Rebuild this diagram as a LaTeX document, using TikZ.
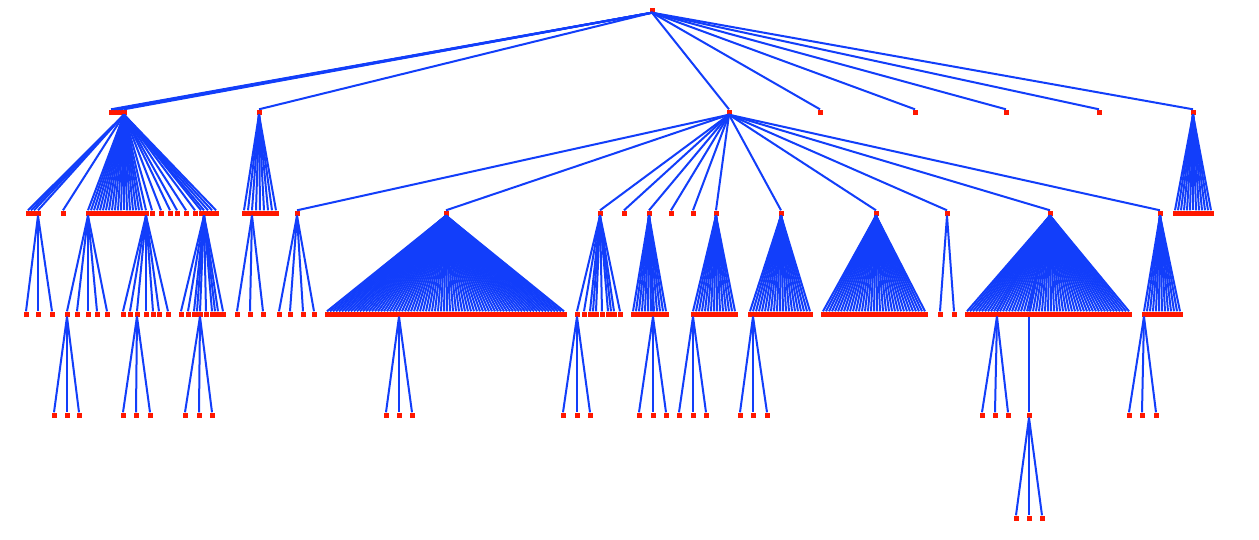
\documentclass[tikz,border=0pt]{standalone}
\definecolor{edgeblue}{RGB}{18,62,250}
\definecolor{dotred}{RGB}{255,24,0}
\tikzset{
  leaf/.style={fill=dotred, draw=none, inner sep=0pt, minimum size=5pt, rectangle},
  edge/.style={draw=edgeblue, line width=2pt}
}
% #1 parent, #2 prefix, #3 y, #4 list of x
\newcommand\kids[4]{\foreach \xx [count=\tkk] in {#4}{%
  \node[leaf] (#2-\tkk) at (\xx,#3) {};
  \draw[edge] (#1.south) -- (#2-\tkk.north);}}
% #1 parent, #2 name, #3 x, #4 y
\newcommand\kid[4]{\node[leaf] (#2) at (#3,#4) {};
  \draw[edge] (#1.south) -- (#2.north);}
\begin{document}
\begin{tikzpicture}[x=1pt,y=-1pt]
\useasboundingbox[fill=white] (0,0) rectangle (1259,539);
\node[leaf] (r) at (652,10) {};
% level 1
\kids{r}{ra}{112}{111,114,117,120}
\kid{r}{A}{124}{112}
\kid{r}{B}{259}{112}
\kid{r}{C}{729}{112}
\kids{r}{rb}{112}{820,915,1006,1099}
\kid{r}{H}{1193}{112}
% children of A
\kids{A}{aa}{213}{28,31,34}
\kid{A}{A1}{38}{213}
\kid{A}{A2}{88}{213}
\kids{A}{ab}{213}{63,91,94,...,142}
\kid{A}{A3}{146}{213}
\kids{A}{ac}{213}{152,161,170,177,186,195,201,208,212,216}
\kid{A}{A4}{204}{213}
\kids{A1}{a1}{314}{26,38,52}
\kids{A2}{a2}{314}{77,88,97,107}
\kid{A2}{A2a}{67}{314}
\kids{A2a}{a2a}{415}{54,67,79}
\kids{A3}{a3}{314}{123,130,146,153,159,168}
\kid{A3}{A3a}{137}{314}
\kids{A3a}{a3a}{415}{123,136,150}
\kids{A4}{a4}{314}{181,188,194,197,206,212,215,218,223}
\kid{A4}{A4a}{200}{314}
\kids{A4a}{a4a}{415}{185,199,212}
% children of B
\kids{B}{bb}{213}{244,248,256,260,264,268,272,276}
\kid{B}{B1}{252}{213}
\kids{B1}{b1}{314}{237,250,263}
% children of H
\kids{H}{hh}{213}{1175,1178,...,1213}
% children of C
\kid{C}{C1}{297}{213}
\kid{C}{C2}{446}{213}
\kid{C}{C3}{600}{213}
\kid{C}{C4}{649}{213}
\kid{C}{C5}{716}{213}
\kid{C}{C6}{781}{213}
\kid{C}{C7}{876}{213}
\kid{C}{C8}{947}{213}
\kid{C}{C9}{1050}{213}
\kid{C}{C10}{1160}{213}
\kids{C}{cc}{213}{624,671,693}
\kids{C1}{c1}{314}{279,290,303,314}
\kids{C2}{c2}{314}{327,330,...,396}
\kids{C2}{c2b}{314}{402,405,...,565}
\kid{C2}{C2a}{399}{314}
\kids{C2a}{c2a}{415}{386,399,412}
\kids{C3}{c3}{314}{584,590,593,596,602,608,611,614,620}
\kid{C3}{C3a}{577}{314}
\kids{C3a}{c3a}{415}{563,577,590}
\kids{C4}{c4}{314}{633,636,...,666}
\kid{C4}{C4a}{653}{314}
\kids{C4a}{c4a}{415}{639,653,666}
\kids{C5}{c5}{314}{696,699,...,737}
\kid{C5}{C5a}{693}{314}
\kids{C5a}{c5a}{415}{679,693,706}
\kids{C6}{c6}{314}{750,756,759,...,812}
\kid{C6}{C6a}{753}{314}
\kids{C6a}{c6a}{415}{740,753,767}
\kids{C7}{c7}{314}{823,826,...,926}
\kids{C8}{c8}{314}{940,954}
\kids{C9}{c9}{314}{967,970,...,1129}
\kid{C9}{C9a}{997}{314}
\kid{C9}{C9b}{1029}{314}
\kids{C9a}{c9a}{415}{982,995,1008}
\kid{C9b}{C9c}{1029}{415}
\kids{C9c}{c9c}{518}{1016,1029,1042}
\kids{C10}{c10}{314}{1147,1150,...,1180}
\kid{C10}{C10a}{1144}{314}
\kids{C10a}{c10a}{415}{1129,1142,1156}
\end{tikzpicture}
\end{document}
